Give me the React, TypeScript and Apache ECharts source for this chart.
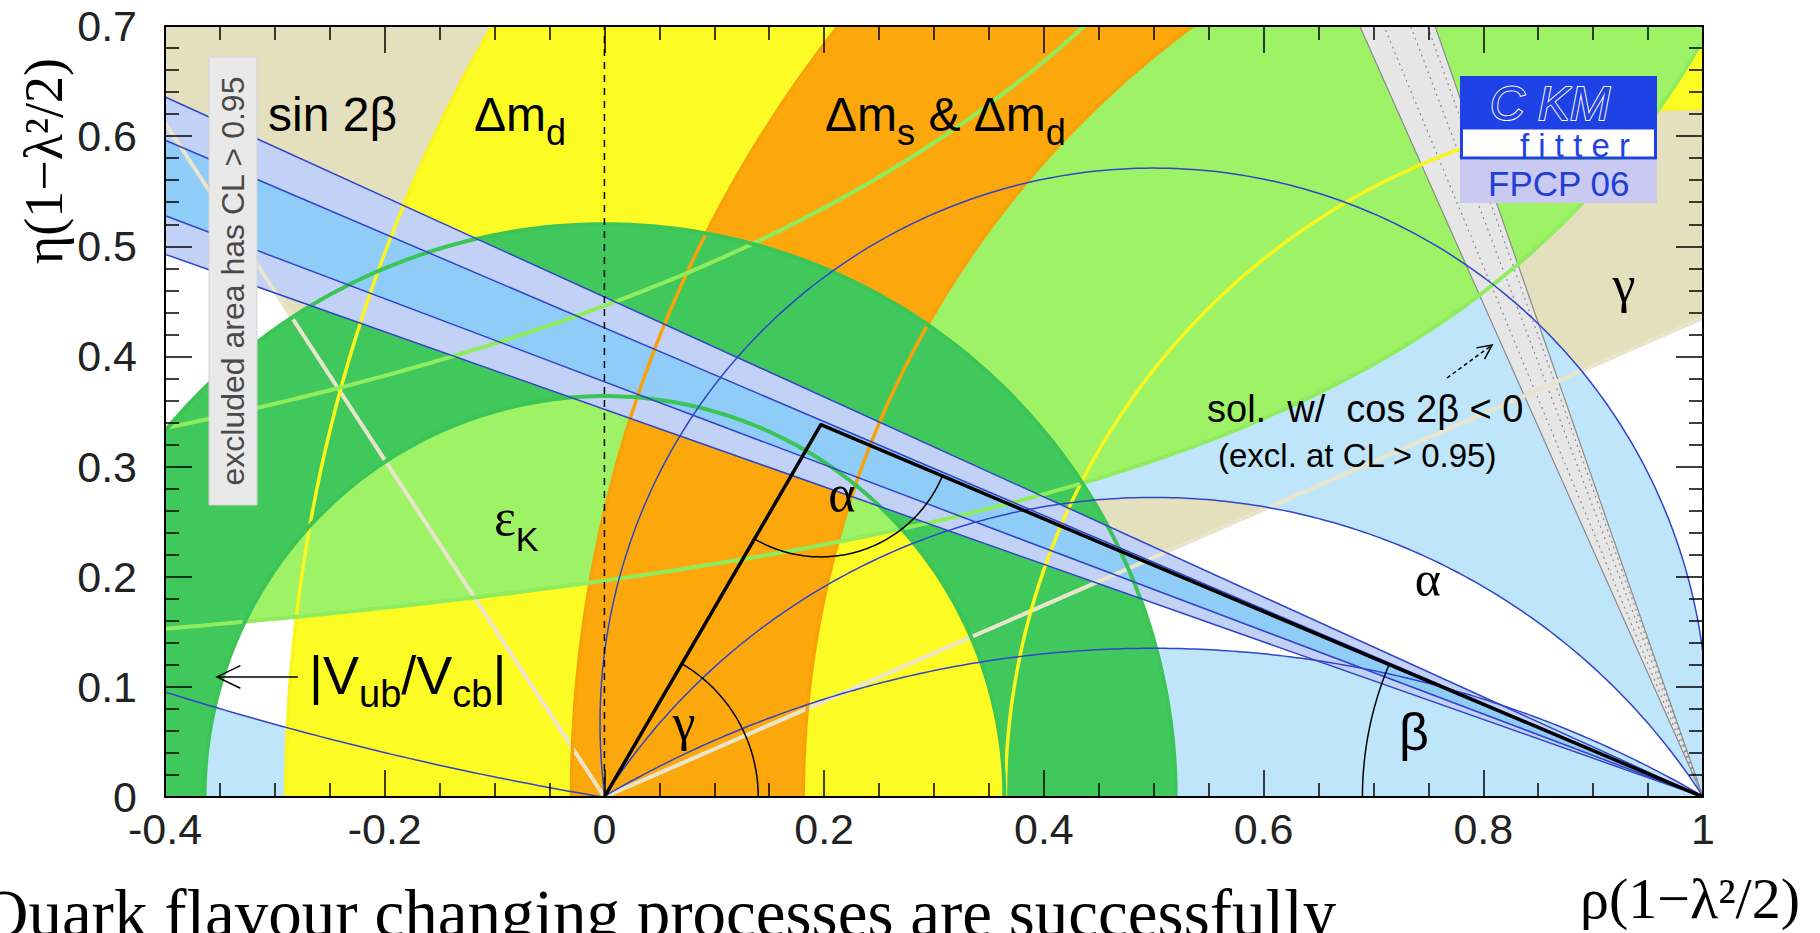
import React, { useEffect, useRef } from "react";
import * as echarts from "echarts";

// ---------------- axes ----------------
const rhoMin = -0.4;
const rhoMax = 1.0;
const rhoStep = 0.2;
const etaMin = 0;
const etaMax = 0.7;
const etaStep = 0.1;

// ---------------- constraint geometry ----------------
const apex = [0.197, 0.338];
const triangle = [[0, 0], apex, [1, 0]];
const gammaEdgeSlopes = [0.435, -1.53]; // eta/rho of the gamma wedge edges (from origin)
const alphaArcCentreEta = [0.067, -0.324, -0.863, 2.976]; // circles through (0,0),(1,0): centre (0.5, c)
const alphaArcRadius = [0.504, 0.596, 0.998, 3.018];
const dmdOuter = [1.11, 1.4]; // [centre rho, radius]
const dmdInner = [0.99, 0.625];
const dmsOuter = [1.1, 1.13];
const dmsInner = [1.049, 0.868];
const vubOuter = [0, 0.52];
const vubInner = [0, 0.364];
const epsKLower = [1.4, 0.275]; // [rho0, k] : eta = k / (rho0 - rho)
const epsKUpper = [1.204, 0.537];
const sin2bOuterSlopes = [0.454, 0.352]; // eta / (1 - rho)
const sin2bInnerSlopes = [0.426, 0.377];
const cos2bEdgeSlopes = [2.24, 2.87];
const cos2bDottedSlopes = [2.41, 2.63, 2.79];
const gammaArcRadius = 0.14;
const alphaAngleArcRadius = 0.12;
const betaArcRadius = 0.31;

const SANS = '"Liberation Sans", Arial, Helvetica, sans-serif';
const SERIF = '"Liberation Serif", "Times New Roman", serif';

// ---------------- geometry helpers ----------------
type P = number[];
const arc = (cx: number, cy: number, r: number, a0: number, a1: number, n = 220): P[] => {
  const out: P[] = [];
  for (let i = 0; i <= n; i++) {
    const t = a0 + ((a1 - a0) * i) / n;
    out.push([cx + r * Math.cos(t), cy + r * Math.sin(t)]);
  }
  return out;
};
const halfCircle = (c: number[], reverse = false): P[] =>
  reverse ? arc(c[0], 0, c[1], Math.PI, 0) : arc(c[0], 0, c[1], 0, Math.PI);
const annulus = (outer: number[], inner: number[]): P[] => [...halfCircle(outer), ...halfCircle(inner, true)];
const hyper = (h: number[], from: number, to: number, n = 220): P[] => {
  const out: P[] = [];
  for (let i = 0; i <= n; i++) {
    const r = from + ((to - from) * i) / n;
    out.push([r, h[1] / (h[0] - r)]);
  }
  return out;
};
const alphaUpper = (i: number): P[] => {
  const c = alphaArcCentreEta[i];
  const aR = Math.atan2(-c, 0.5);
  return arc(0.5, c, alphaArcRadius[i], aR, Math.PI - aR);
};
const alphaLeft = (): P[] => {
  const c = alphaArcCentreEta[3];
  const aL = Math.PI - Math.atan2(-c, 0.5);
  return arc(0.5, c, alphaArcRadius[3], aL, aL - 0.3, 120);
};
const rayFromOrigin = (s: number, rhoEnd: number): P => [rhoEnd, s * rhoEnd];
const rayFromB = (s: number): P => [-2, 3 * s];
const steepRay = (s: number): P => [1 - 1 / s, 1];

function buildShapes() {
  const beige = [[0, 0], rayFromOrigin(gammaEdgeSlopes[0], 3), [3, 4], [-2.5, 4], rayFromOrigin(gammaEdgeSlopes[1], -2.5)];
  const alphaA = [...alphaUpper(0), ...alphaUpper(1).reverse()];
  const alphaB = alphaUpper(2);
  const la = alphaLeft();
  const alphaC = [...la, [la[la.length - 1][0], -0.05], [0, -0.05]];
  const epsK = [...hyper(epsKLower, -0.5, 1.03), [1.03, 0.9], [0.5, 0.9], ...hyper(epsKUpper, 0.5, -0.5)];
  const fills = [
    { pts: beige, fill: "#e4dfbc" },
    { pts: alphaA, fill: "#bfe5fa" },
    { pts: alphaB, fill: "#bfe5fa" },
    { pts: alphaC, fill: "#bfe5fa" },
    { pts: annulus(dmdOuter, dmdInner), fill: "#fdfb24" },
    { pts: epsK, fill: "#9ef266" },
    { pts: annulus(dmsOuter, dmsInner), fill: "#fca80c" },
    { pts: annulus(vubOuter, vubInner), fill: "#40c85c" },
    { pts: [[1, 0], rayFromB(sin2bOuterSlopes[0]), rayFromB(sin2bOuterSlopes[1])], fill: "#c2d2f6" },
    { pts: [[1, 0], rayFromB(sin2bInnerSlopes[0]), rayFromB(sin2bInnerSlopes[1])], fill: "#8fccf8" },
    { pts: [[1, 0], steepRay(cos2bEdgeSlopes[0]), steepRay(cos2bEdgeSlopes[1])], fill: "#e6e6e6" },
  ];
  const lines: any[] = [];
  cos2bEdgeSlopes.forEach((s) => lines.push({ pts: [[1, 0], steepRay(s)], stroke: "#8c8c8c", w: 1.2 }));
  cos2bDottedSlopes.forEach((s) => lines.push({ pts: [[1, 0], steepRay(s)], stroke: "#8c8c8c", w: 1.2, dash: [2, 4] }));
  lines.push({ pts: [[0, 0], rayFromOrigin(gammaEdgeSlopes[0], 3)], stroke: "#e9e5cc", w: 4 });
  lines.push({ pts: [[0, 0], rayFromOrigin(gammaEdgeSlopes[1], -2.5)], stroke: "#e9e5cc", w: 4 });
  [dmdOuter, dmdInner].forEach((c) => lines.push({ pts: halfCircle(c), stroke: "#f9f61e", w: 3.5 }));
  [dmsOuter, dmsInner].forEach((c) => lines.push({ pts: halfCircle(c), stroke: "#f8a20a", w: 3.5 }));
  lines.push({ pts: hyper(epsKLower, -0.5, 1.03), stroke: "#8fed5d", w: 4 });
  lines.push({ pts: hyper(epsKUpper, -0.5, 0.5), stroke: "#8fed5d", w: 4 });
  [vubOuter, vubInner].forEach((c) => lines.push({ pts: halfCircle(c), stroke: "#3cc456", w: 4 }));
  [...sin2bOuterSlopes, ...sin2bInnerSlopes].forEach((s) => lines.push({ pts: [[1, 0], rayFromB(s)], stroke: "#3045c8", w: 1.5 }));
  [0, 1, 2].forEach((i) => lines.push({ pts: alphaUpper(i), stroke: "#3045c8", w: 1.5 }));
  lines.push({ pts: alphaLeft(), stroke: "#3045c8", w: 1.5 });
  // unitarity triangle and angles
  lines.push({ pts: [[0, 0], [0, etaMax]], stroke: "#000", w: 1.5, dash: [7, 6] });
  const gA = Math.atan2(apex[1], apex[0]);
  const bA = Math.atan2(apex[1], 1 - apex[0]);
  lines.push({ pts: arc(0, 0, gammaArcRadius, 0, gA, 80), stroke: "#000", w: 1.5 });
  lines.push({ pts: arc(apex[0], apex[1], alphaAngleArcRadius, Math.atan2(-apex[1], -apex[0]), Math.atan2(-apex[1], 1 - apex[0]), 80), stroke: "#000", w: 1.5 });
  lines.push({ pts: arc(1, 0, betaArcRadius, Math.PI, Math.PI - bA, 80), stroke: "#000", w: 1.5 });
  lines.push({ pts: triangle, stroke: "#000", w: 3.5 });
  return { fills, lines };
}

let mctx: any = null;
function textWidth(t: string, font: string) {
  if (!mctx) mctx = document.createElement("canvas").getContext("2d");
  mctx.font = font;
  return mctx.measureText(t).width;
}

function buildOption() {
  const { fills, lines } = buildShapes();

  const labelSpecs: any[] = [
    { at: [-0.3062, 0.6047], parts: [["sin 2β", 48, 0, SANS]] },
    { at: [-0.1187, 0.6047], parts: [["Δm", 48, 0, SANS], ["d", 36, 14, SANS]] },
    { at: [0.2008, 0.6047], parts: [["Δm", 48, 0, SANS], ["s", 36, 14, SANS], [" & ", 48, 0, SANS], ["Δm", 48, 0, SANS], ["d", 36, 14, SANS]] },
    { at: [-0.1005, 0.2379], parts: [["ε", 52, 0, SERIF], ["K", 34, 16, SANS]] },
    { at: [-0.2689, 0.0935], parts: [["|V", 54, 0, SANS], ["ub", 38, 13, SANS], ["/V", 54, 0, SANS], ["cb", 38, 13, SANS], ["|", 54, 0, SANS]] },
    { at: [0.2162, 0.2597], center: true, parts: [["α", 52, 0, SERIF]] },
    { at: [0.0725, 0.0518], center: true, parts: [["γ", 52, 0, SERIF]] },
    { at: [0.7496, 0.1825], center: true, parts: [["α", 50, 0, SERIF]] },
    { at: [0.7369, 0.0427], center: true, parts: [["β", 52, 0, SANS]] },
    { at: [0.928, 0.4494], center: true, parts: [["γ", 52, 0, SERIF]] },
    { at: [0.5485, 0.3405], parts: [["sol.  w/  cos 2β < 0", 38, 0, SANS]] },
    { at: [0.5585, 0.2996], parts: [["(excl. at CL > 0.95)", 33, 0, SANS]] },
  ];
  const arrowSpecs: any[] = [
    { from: [-0.279, 0.109], to: [-0.3527, 0.109], head: 26, dash: null },
    { from: [0.767, 0.3804], to: [0.808, 0.4104], head: 16, dash: [4, 3] },
  ];

  const axisCommon: any = {
    type: "value",
    z: 10,
    axisLine: { show: true, onZero: false, lineStyle: { color: "#000", width: 2 } },
    axisTick: { show: true, inside: true, length: 27, lineStyle: { color: "#000", width: 1.5 } },
    splitLine: { show: false },
  };

  return {
    animation: false,
    backgroundColor: "#ffffff",
    grid: { left: 165, top: 26, width: 1538, height: 771, containLabel: false, outerBoundsMode: "none" },
    xAxis: [
      {
        ...axisCommon,
        min: rhoMin, max: rhoMax, interval: rhoStep, position: "bottom",
        minorTick: { show: true, splitNumber: 4, length: 14, lineStyle: { color: "#000", width: 1.5 } },
        axisLabel: { show: true, margin: 14, fontSize: 43, lineHeight: 36, fontFamily: SANS, color: "#222" },
      },
      {
        ...axisCommon,
        min: rhoMin, max: rhoMax, interval: rhoStep, position: "top",
        minorTick: { show: true, splitNumber: 4, length: 14, lineStyle: { color: "#000", width: 1.5 } },
        axisLabel: { show: false },
      },
    ],
    yAxis: [
      {
        ...axisCommon,
        min: etaMin, max: etaMax, interval: etaStep, position: "left",
        minorTick: { show: true, splitNumber: 5, length: 14, lineStyle: { color: "#000", width: 1.5 } },
        axisLabel: { show: true, margin: 28, fontSize: 43, lineHeight: 28, fontFamily: SANS, color: "#222" },
      },
      {
        ...axisCommon,
        min: etaMin, max: etaMax, interval: etaStep, position: "right",
        minorTick: { show: true, splitNumber: 5, length: 14, lineStyle: { color: "#000", width: 1.5 } },
        axisLabel: { show: false },
      },
    ],
    series: [
      {
        type: "custom",
        name: "constraints",
        coordinateSystem: "cartesian2d",
        xAxisIndex: 0,
        yAxisIndex: 0,
        clip: true,
        silent: true,
        z: 2,
        data: fills.map((_, i) => [0, 0, i]),
        renderItem: (params: any, api: any) => {
          const f = fills[params.dataIndex];
          return { type: "polygon", shape: { points: f.pts.map((q: P) => api.coord(q)) }, style: { fill: f.fill } };
        },
      },
      {
        type: "custom",
        name: "contours",
        coordinateSystem: "cartesian2d",
        xAxisIndex: 0,
        yAxisIndex: 0,
        clip: true,
        silent: true,
        z: 3,
        data: lines.map((_, i) => [0, 0, i]),
        renderItem: (params: any, api: any) => {
          const l = lines[params.dataIndex];
          return {
            type: "polyline",
            shape: { points: l.pts.map((q: P) => api.coord(q)) },
            style: { fill: null, stroke: l.stroke, lineWidth: l.w, lineDash: l.dash || null, lineJoin: "round" },
          };
        },
      },
      {
        type: "custom",
        name: "annotations",
        coordinateSystem: "cartesian2d",
        xAxisIndex: 0,
        yAxisIndex: 0,
        clip: false,
        silent: true,
        z: 12,
        data: [...labelSpecs, ...arrowSpecs].map((_, i) => [0, 0, i]),
        renderItem: (params: any, api: any) => {
          const i = params.dataIndex;
          if (i < labelSpecs.length) {
            const L = labelSpecs[i];
            const [x0, y0] = api.coord(L.at);
            const parts = L.parts.map((p: any) => {
              const font = `${p[1]}px ${p[3] || SANS}`;
              return { t: p[0], size: p[1], dy: p[2], font, w: textWidth(p[0], font) };
            });
            const total = parts.reduce((s: number, p: any) => s + p.w, 0);
            let x = L.center ? x0 - total / 2 : x0;
            const children = parts.map((p: any) => {
              const e = {
                type: "text",
                x,
                y: y0 + p.dy - 0.345 * p.size,
                style: { text: p.t, font: p.font, fill: "#000", align: "left", verticalAlign: "middle" },
              };
              x += p.w;
              return e;
            });
            return { type: "group", children };
          }
          const A = arrowSpecs[i - labelSpecs.length];
          const [x1, y1] = api.coord(A.from);
          const [x2, y2] = api.coord(A.to);
          const len = Math.hypot(x2 - x1, y2 - y1);
          const bx = -(x2 - x1) / len, by = -(y2 - y1) / len;
          const sp = 0.45;
          const h1 = [x2 + A.head * (bx * Math.cos(sp) - by * Math.sin(sp)), y2 + A.head * (bx * Math.sin(sp) + by * Math.cos(sp))];
          const h2 = [x2 + A.head * (bx * Math.cos(-sp) - by * Math.sin(-sp)), y2 + A.head * (bx * Math.sin(-sp) + by * Math.cos(-sp))];
          return {
            type: "group",
            children: [
              { type: "polyline", shape: { points: [[x1, y1], [x2, y2]] }, style: { fill: null, stroke: "#000", lineWidth: 1.5, lineDash: A.dash } },
              { type: "polyline", shape: { points: [h1, [x2, y2], h2] }, style: { fill: null, stroke: "#000", lineWidth: 1.5 } },
            ],
          };
        },
      },
    ],
    graphic: [
      // excluded-area tag
      { type: "rect", z: 50, shape: { x: 209, y: 57, width: 48, height: 448 }, style: { fill: "#e9e9e9", stroke: "#d2d2d2", lineWidth: 1 } },
      {
        type: "text", z: 51, x: 233, y: 281, rotation: Math.PI / 2,
        style: { text: "excluded area has CL > 0.95", font: `32px ${SANS}`, fill: "#4a4a4a", align: "center", verticalAlign: "middle" },
      },
      // CKMfitter logo
      { type: "rect", z: 50, shape: { x: 1460, y: 76, width: 197, height: 52 }, style: { fill: "#1f42e6" } },
      { type: "rect", z: 50, shape: { x: 1461.5, y: 128, width: 194, height: 30 }, style: { fill: "#ffffff", stroke: "#1f42e6", lineWidth: 3 } },
      { type: "rect", z: 50, shape: { x: 1460, y: 160, width: 197, height: 43 }, style: { fill: "#c9c9f2" } },
      {
        type: "text", z: 51, x: 1490, y: 103,
        style: { text: "C KM", font: `italic 48px ${SANS}`, fill: "#1f42e6", stroke: "#ffffff", lineWidth: 2, align: "left", verticalAlign: "middle" },
      },
      {
        type: "text", z: 51, x: 1520, y: 145,
        style: { text: "f i t t e r", font: `33px ${SANS}`, fill: "#1f42e6", align: "left", verticalAlign: "middle" },
      },
      {
        type: "text", z: 51, x: 1488, y: 183,
        style: { text: "FPCP 06", font: `35px ${SANS}`, fill: "#1f3fd6", align: "left", verticalAlign: "middle" },
      },
      // axis titles
      {
        type: "text", z: 51, x: 44, y: 161, rotation: Math.PI / 2,
        style: { text: "η(1−λ²/2)", font: `54px ${SERIF}`, fill: "#000", align: "center", verticalAlign: "middle" },
      },
      {
        type: "text", z: 51, x: 1690, y: 898,
        style: { text: "ρ(1−λ²/2)", font: `58px ${SERIF}`, fill: "#000", align: "center", verticalAlign: "middle" },
      },
      {
        type: "text", z: 51, x: -20, y: 913,
        style: { text: "Quark flavour changing processes are successfully", font: `67px ${SERIF}`, fill: "#000", align: "left", verticalAlign: "middle" },
      },
    ],
  };
}

export default function App() {
  const ref = useRef<HTMLDivElement>(null);
  useEffect(() => {
    const el = ref.current;
    if (!el) return;
    const chart = echarts.init(el, null, { renderer: "svg" });
    chart.setOption(buildOption() as any);
    return () => chart.dispose();
  }, []);
  return (
    <div
      ref={ref}
      style={{ position: "fixed", left: 0, top: 0, width: 1820, height: 933, background: "#ffffff", overflow: "hidden" }}
    />
  );
}
